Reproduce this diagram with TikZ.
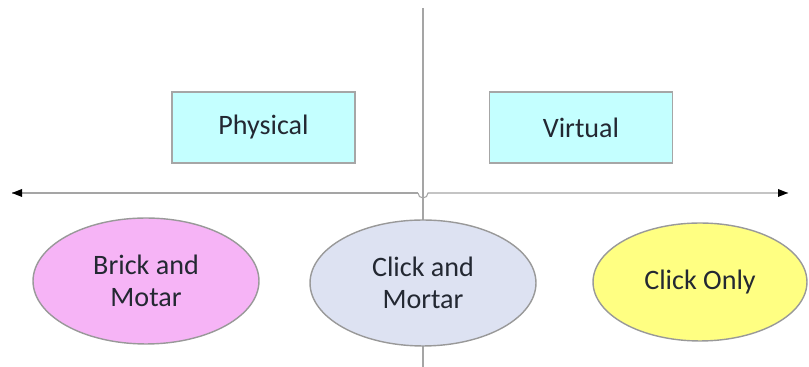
\documentclass[tikz,border=0pt]{standalone}
\usepackage{fontspec}
\setmainfont{Carlito}
\usetikzlibrary{shapes.geometric}
\definecolor{boxcyan}{RGB}{196,255,255}
\definecolor{brickpink}{RGB}{246,180,246}
\definecolor{mortarblue}{RGB}{221,226,242}
\definecolor{onlyyellow}{RGB}{255,255,130}
\definecolor{axisgray}{RGB}{165,165,165}
\definecolor{inkdark}{RGB}{35,40,50}

\begin{document}
\begin{tikzpicture}[x=0.02cm, y=-0.02cm, thick,
  side/.style = {draw=gray!70, fill=boxcyan, minimum width=3.66cm, minimum height=1.42cm, font=\fontsize{16}{18}\selectfont, text=inkdark},
  kind/.style = {draw=gray!80, ellipse, minimum width=4.52cm, minimum height=2.52cm, align=center, font=\fontsize{16}{18}\selectfont, text=inkdark}]
  \useasboundingbox (0,0) rectangle (809,367);
  % axes
  \coordinate (top) at (423,8);
  \coordinate (bottom) at (423,367);
  \coordinate (west) at (12,193);
  \coordinate (east) at (788,193);
  \coordinate (hopa) at (418,193);
  \coordinate (hopb) at (428,193);
  \draw[axisgray, semithick] (top) -- (bottom);
  \draw[axisgray, semithick] (hopa) arc[start angle=180, end angle=0, radius=5] -- (east);
  \draw[axisgray, semithick] (west) -- (hopa);
  \fill[black] (east) -- ++(-10,-4) -- ++(0,8) -- cycle;
  \fill[black] (west) -- ++(10,-4) -- ++(0,8) -- cycle;
  % labels
  \node[side] (phys) at (263.5,127.5) {Physical};
  \node[side] (virt) at (581,127.5) {Virtual};
  \node[kind, fill=brickpink] (brick) at (146,281) {Brick and\\Motar};
  \node[kind, fill=mortarblue] (mortar) at (423,283) {Click and\\Mortar};
  \node[kind, fill=onlyyellow, minimum width=4.28cm, minimum height=2.36cm] (only) at (700,282) {Click Only};
\end{tikzpicture}
\end{document}
